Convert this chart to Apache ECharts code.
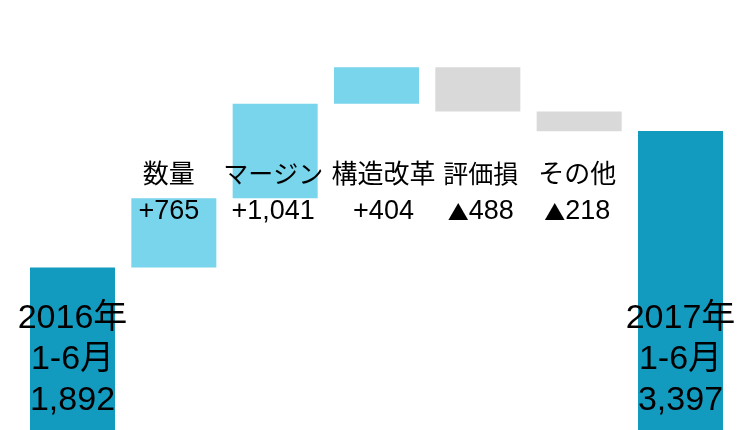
<!DOCTYPE html>
<html>
<head>
<meta charset="utf-8">
<script src="https://cdn.jsdelivr.net/npm/echarts@6/dist/echarts.min.js"></script>
<style>
html, body { margin: 0; padding: 0; background: #fff; overflow: hidden; }
#chart { width: 737px; height: 439px; }
</style>
</head>
<body>
<div id="chart"></div>
<script>
const categories = ['2016年\n1-6月', '数量', 'マージン', '構造改革', '評価損', 'その他', '2017年\n1-6月'];
const startValue = 1892;
const changes = [765, 1041, 404, -488, -218];
const endValue = 3397;

const FONT = "'Liberation Sans', Arial, 'Noto Sans CJK JP', sans-serif";
const CJK = "'Noto Sans CJK JP', sans-serif";
const labelOffsets = [[0, 0], [-5, 0], [-2, 0], [7, 0], [3, 0], [-2, 0], [0, 0]];
const nameSizes = [25, 26, 25, 26, 25, 26, 25];

// build waterfall stacks from the data
const baseData = [0];
const totalData = [startValue];
const incData = [0];
const decData = [0];
let running = startValue;
changes.forEach(function (c) {
  if (c >= 0) {
    baseData.push(running);
    incData.push(c);
    decData.push(0);
  } else {
    baseData.push(running + c);
    incData.push(0);
    decData.push(-c);
  }
  totalData.push(0);
  running += c;
});
baseData.push(0);
totalData.push(endValue);
incData.push(0);
decData.push(0);

function fmt(n) {
  return n.toLocaleString('en-US');
}
function changeRich(c) {
  return c >= 0 ? '{v|+' + fmt(c) + '}' : '{t|▲}{v|' + fmt(-c) + '}';
}

const chart = echarts.init(document.getElementById('chart'), null, { renderer: 'canvas' });

const baseSeriesData = baseData.map(function (v, i) {
  const item = { value: v };
  if (i > 0 && i < categories.length - 1) {
    item.label = {
      show: true,
      position: 'insideBottom',
      distance: 209,
      offset: labelOffsets[i],
      formatter: '{n|' + categories[i] + '}\n' + changeRich(changes[i - 1]),
      rich: {
        n: { fontSize: nameSizes[i], lineHeight: 36, color: '#000', fontFamily: FONT },
        v: { fontSize: 27, lineHeight: 36, color: '#000', fontFamily: FONT },
        t: { fontSize: 21, lineHeight: 36, color: '#000', fontFamily: CJK }
      }
    };
  }
  return item;
});

const totalSeriesData = totalData.map(function (v, i) {
  const item = { value: v };
  if (i === 0 || i === categories.length - 1) {
    item.label = {
      show: true,
      position: 'insideBottom',
      distance: 18,
      offset: labelOffsets[i],
      formatter: categories[i] + '\n' + fmt(v),
      fontSize: 34,
      lineHeight: 41,
      color: '#000',
      fontFamily: FONT
    };
  }
  return item;
});

chart.setOption({
  animation: false,
  backgroundColor: '#ffffff',
  grid: { left: 21.83, right: 5.83, top: 0, bottom: 0 },
  xAxis: {
    type: 'category',
    data: categories,
    show: false,
    boundaryGap: true
  },
  yAxis: {
    type: 'value',
    min: 0,
    max: 4843,
    show: false
  },
  series: [
    {
      name: 'base',
      type: 'bar',
      stack: 'w',
      barWidth: 85,
      z: 5,
      itemStyle: { color: 'rgba(0,0,0,0)' },
      emphasis: { disabled: true },
      data: baseSeriesData
    },
    {
      name: 'total',
      type: 'bar',
      stack: 'w',
      barWidth: 85,
      itemStyle: { color: '#139ABF' },
      data: totalSeriesData
    },
    {
      name: 'increase',
      type: 'bar',
      stack: 'w',
      barWidth: 85,
      itemStyle: { color: '#78D5EC' },
      data: incData
    },
    {
      name: 'decrease',
      type: 'bar',
      stack: 'w',
      barWidth: 85,
      itemStyle: { color: '#D9D9D9' },
      data: decData
    }
  ]
});
</script>
</body>
</html>
